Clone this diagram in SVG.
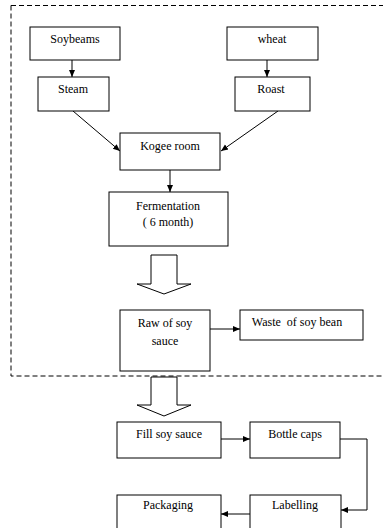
<svg xmlns="http://www.w3.org/2000/svg" width="383" height="528" viewBox="0 0 383 528">
<style>
.box{fill:#fff;stroke:#000;stroke-width:1}
.t{font-family:"Liberation Serif","Times New Roman",serif;font-size:12px;fill:#000;text-anchor:middle}
.ln{fill:none;stroke:#000;stroke-width:1}
.blk{fill:#fff;stroke:#000;stroke-width:1}
</style>
<defs>
<marker id="ah" markerWidth="8" markerHeight="8" refX="7" refY="4" orient="auto" markerUnits="userSpaceOnUse">
<path d="M0,1 L7,4 L0,7 Z" fill="#000"/>
</marker>
</defs>
<rect x="11" y="5.5" width="380" height="370.5" fill="none" stroke="#000" stroke-width="1" stroke-dasharray="5,3"/>
<g id="connectors">
<line class="ln" x1="72" y1="60" x2="72" y2="77" marker-end="url(#ah)"/>
<line class="ln" x1="267" y1="60" x2="267" y2="77" marker-end="url(#ah)"/>
<line class="ln" x1="73" y1="111" x2="120" y2="151" marker-end="url(#ah)"/>
<line class="ln" x1="278" y1="111" x2="221" y2="151" marker-end="url(#ah)"/>
<line class="ln" x1="170" y1="170" x2="170" y2="192" marker-end="url(#ah)"/>
<path class="blk" d="M151,255 H177 V284 H191 L164,294 L137,284 H151 Z"/>
<line class="ln" x1="210" y1="329" x2="240" y2="329" marker-end="url(#ah)"/>
<path class="blk" d="M151,377 H177 V405 H191 L164,416 L137,405 H151 Z"/>
<line class="ln" x1="221" y1="439" x2="250" y2="439" marker-end="url(#ah)"/>
<polyline class="ln" points="340,439 367,439 367,510 341,510" marker-end="url(#ah)"/>
<line class="ln" x1="250" y1="514" x2="221" y2="514" marker-end="url(#ah)"/>
</g>
<g id="soybeams"><rect class="box" x="30" y="27" width="90" height="33"/><text class="t" x="75" y="43">Soybeams</text></g>
<g id="wheat"><rect class="box" x="227" y="27" width="91" height="33"/><text class="t" x="272" y="43">wheat</text></g>
<g id="steam"><rect class="box" x="38" y="77" width="71" height="34"/><text class="t" x="73" y="93">Steam</text></g>
<g id="roast"><rect class="box" x="235" y="77" width="75" height="34"/><text class="t" x="271" y="93">Roast</text></g>
<g id="kogee"><rect class="box" x="120" y="133" width="100" height="37"/><text class="t" x="170" y="150">Kogee room</text></g>
<g id="fermentation"><rect class="box" x="109" y="192" width="119" height="54"/><text class="t" x="168" y="210">Fermentation</text><text class="t" x="168" y="226">( 6 month)</text></g>
<g id="raw"><rect class="box" x="120" y="310" width="90" height="61"/><text class="t" x="165" y="327">Raw of soy</text><text class="t" x="165" y="345">sauce</text></g>
<g id="waste"><rect class="box" x="240" y="310" width="123" height="30"/><text class="t" x="297" y="326" xml:space="preserve">Waste  of soy bean</text></g>
<g id="fill"><rect class="box" x="117" y="422" width="104" height="36"/><text class="t" x="169" y="438">Fill soy sauce</text></g>
<g id="bottle"><rect class="box" x="250" y="422" width="90" height="36"/><text class="t" x="295" y="438">Bottle caps</text></g>
<g id="labelling"><rect class="box" x="250" y="495" width="91" height="40"/><text class="t" x="295" y="509">Labelling</text></g>
<g id="packaging"><rect class="box" x="117" y="495" width="104" height="40"/><text class="t" x="168" y="509">Packaging</text></g>
</svg>
